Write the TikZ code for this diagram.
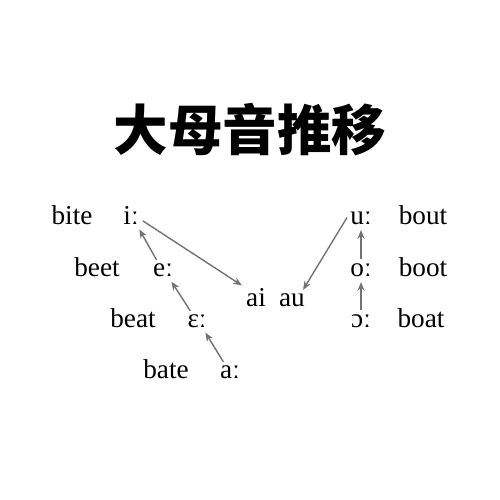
\documentclass[tikz,border=0pt]{standalone}
\usepackage{fontspec}
\setmainfont{Liberation Serif}
\newfontfamily\cjk{Noto Sans CJK SC Black}
\usetikzlibrary{arrows.meta, positioning}

\begin{document}
\begin{tikzpicture}[>={Stealth[length=5pt,width=4pt]},
    word/.style={anchor=base, inner sep=1pt, font=\fontsize{15.5}{18}\selectfont},
    vshift/.style={->, draw=black!55, line width=0.8pt, shorten <=1.5pt, shorten >=1.5pt}]
    \useasboundingbox (0,0) rectangle (10,10);
    \node (title) at (5,7.4) {\cjk\fontsize{31}{36}\selectfont 大母音推移};

    % front vowels
    \node[word] (bite) at (1.44,5.5) {bite};
    \node[word] (iL) at (2.62,5.5) {iː};
    \node[word] (beet) at (1.94,4.46) {beet};
    \node[word] (eL) at (3.26,4.46) {eː};
    \node[word] (beat) at (2.66,3.44) {beat};
    \node[word] (epsL) at (3.94,3.44) {ɛː};
    \node[word] (bate) at (3.32,2.42) {bate};
    \node[word] (aL) at (4.6,2.42) {aː};

    % diphthongs
    \node[word] (ai) at (5.12,3.86) {ai};
    \node[word] (au) at (5.84,3.86) {au};

    % back vowels
    \node[word] (uL) at (7.22,5.5) {uː};
    \node[word] (bout) at (8.46,5.5) {bout};
    \node[word] (oL) at (7.22,4.46) {oː};
    \node[word] (boot) at (8.46,4.46) {boot};
    \node[word] (openoL) at (7.22,3.44) {ɔː};
    \node[word] (boat) at (8.42,3.44) {boat};

    \draw[vshift] ([yshift=-2pt]iL.east) -- (ai.north west);
    \draw[vshift] ([xshift=-3pt]eL.north) -- ([xshift=4pt]iL.south);
    \draw[vshift] ([xshift=-3pt]epsL.north) -- ([xshift=4pt]eL.south);
    \draw[vshift] ([xshift=-3pt]aL.north) -- ([xshift=4pt]epsL.south);
    \draw[vshift] ([yshift=2pt]uL.west) -- ([xshift=-3pt]au.north east);
    \draw[vshift] (oL) -- (uL);
    \draw[vshift] (openoL) -- (oL);
\end{tikzpicture}
\end{document}
